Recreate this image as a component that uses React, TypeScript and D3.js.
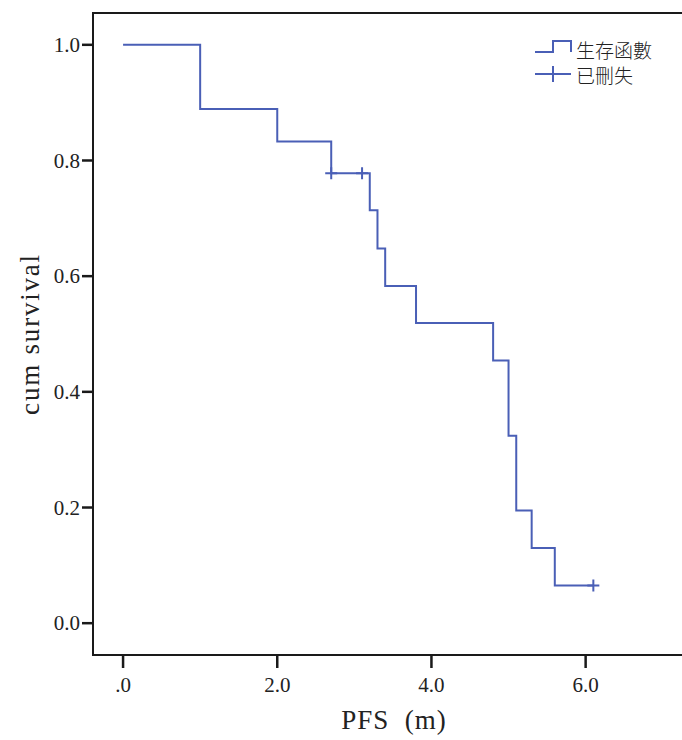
import { useRef, useEffect } from "react";
import * as d3 from "d3";

// Kaplan-Meier steps: time at which survival changes, and the level after it
const stepTimes = [0, 1.0, 2.0, 2.7, 3.2, 3.3, 3.4, 3.8, 4.8, 5.0, 5.1, 5.3, 5.6, 6.1];
const stepSurvival = [1.0, 0.889, 0.833, 0.778, 0.714, 0.648, 0.583, 0.519, 0.454, 0.324, 0.195, 0.13, 0.065, 0.065];

// censored observations
const censorTimes = [2.7, 3.1, 6.1];
const censorSurvival = [0.778, 0.778, 0.065];

const xTicks = [0, 2, 4, 6];
const yTicks = [0, 0.2, 0.4, 0.6, 0.8, 1.0];
const legendLabels = ["生存函數", "已刪失"];

const KMChart = () => {
  const ref = useRef<SVGSVGElement | null>(null);

  useEffect(() => {
    if (ref.current === null) return;
    const width = 682;
    const height = 740;
    const color = "#4a5fb6";
    const serif = "'Liberation Serif', 'DejaVu Serif', serif";
    const cjk = "'Noto Sans CJK TC', 'Noto Sans CJK SC', sans-serif";

    const left = 93;
    const top = 13;
    const bottom = 655;

    const svg = d3.select(ref.current);
    svg.selectAll("*").remove();
    svg.attr("width", width).attr("height", height);

    const x = d3.scaleLinear().domain([-0.39, 7.25]).range([left, width]);
    const y = d3.scaleLinear().domain([-0.055, 1.055]).range([bottom, top]);

    // frame: left, top and bottom lines (right side runs off the image)
    svg
      .append("path")
      .attr("d", `M${width},${top}H${left}V${bottom}H${width}`)
      .attr("fill", "none")
      .attr("stroke", "#1a1a1a")
      .attr("stroke-width", 2);

    // y axis ticks
    const yg = svg.append("g");
    yTicks.forEach((t) => {
      yg.append("line")
        .attr("x1", left - 11)
        .attr("x2", left)
        .attr("y1", y(t))
        .attr("y2", y(t))
        .attr("stroke", "#1a1a1a")
        .attr("stroke-width", 2.5);
      yg.append("text")
        .attr("x", left - 13)
        .attr("y", y(t))
        .attr("dy", "0.34em")
        .attr("text-anchor", "end")
        .attr("font-family", serif)
        .attr("font-size", 21)
        .attr("fill", "#222")
        .text(d3.format(".1f")(t));
    });

    // x axis ticks
    const xg = svg.append("g");
    xTicks.forEach((t) => {
      xg.append("line")
        .attr("x1", x(t))
        .attr("x2", x(t))
        .attr("y1", bottom)
        .attr("y2", bottom + 13)
        .attr("stroke", "#1a1a1a")
        .attr("stroke-width", 2.5);
      xg.append("text")
        .attr("x", x(t))
        .attr("y", bottom + 37)
        .attr("text-anchor", "middle")
        .attr("font-family", serif)
        .attr("font-size", 21)
        .attr("fill", "#222")
        .text(t === 0 ? ".0" : d3.format(".1f")(t));
    });

    // axis titles
    svg
      .append("text")
      .attr("x", 394)
      .attr("y", 729)
      .attr("text-anchor", "middle")
      .attr("font-family", serif)
      .attr("font-size", 27)
      .attr("letter-spacing", 1)
      .attr("fill", "#222")
      .style("white-space", "pre")
      .text("PFS  (m)");

    svg
      .append("text")
      .attr("transform", `translate(39,334) rotate(-90)`)
      .attr("text-anchor", "middle")
      .attr("font-family", serif)
      .attr("font-size", 27)
      .attr("letter-spacing", 1.8)
      .attr("fill", "#222")
      .text("cum survival");

    // survival step line
    const pts: [number, number][] = stepTimes.map((t, i) => [t, stepSurvival[i]]);
    const line = d3
      .line<[number, number]>()
      .x((d) => x(d[0]))
      .y((d) => y(d[1]))
      .curve(d3.curveStepAfter);

    svg
      .append("path")
      .attr("d", line(pts))
      .attr("fill", "none")
      .attr("stroke", color)
      .attr("stroke-width", 2);

    // censor marks
    censorTimes.forEach((t, i) => {
      const cx = x(t);
      const cy = y(censorSurvival[i]);
      svg
        .append("path")
        .attr("d", `M${cx - 6},${cy}H${cx + 6}M${cx},${cy - 6}V${cy + 6}`)
        .attr("stroke", color)
        .attr("stroke-width", 2)
        .attr("fill", "none");
    });

    // legend
    const lg = svg.append("g");
    lg.append("path")
      .attr("d", "M535,52H553V41H571V52")
      .attr("fill", "none")
      .attr("stroke", color)
      .attr("stroke-width", 2);
    lg.append("path")
      .attr("d", "M535,74H571M553,66V82")
      .attr("fill", "none")
      .attr("stroke", color)
      .attr("stroke-width", 2);
    legendLabels.forEach((label, i) => {
      lg.append("text")
        .attr("x", 576)
        .attr("y", 51 + i * 25)
        .attr("dy", "0.36em")
        .attr("font-family", cjk)
        .attr("font-size", 19)
        .attr("font-weight", 300)
        .attr("fill", "#222")
        .text(label);
    });
  }, []);

  return (
    <svg
      ref={ref}
      style={{ position: "absolute", left: 0, top: 0, background: "#fff" }}
    />
  );
};

export default function App() {
  return <KMChart />;
}
